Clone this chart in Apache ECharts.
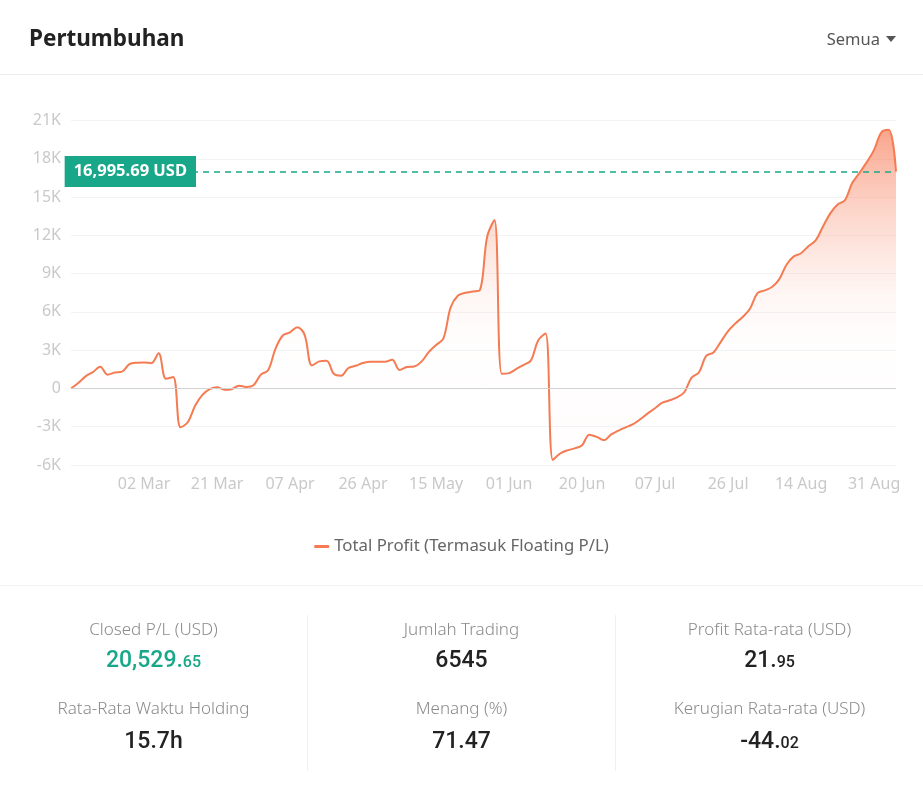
<!DOCTYPE html>
<html>
<head>
<meta charset="utf-8">
<title>Pertumbuhan</title>
<script src="https://cdn.jsdelivr.net/npm/echarts@6/dist/echarts.min.js"></script>
<style>
  html, body { margin: 0; padding: 0; background: #fff; }
  body { width: 923px; height: 799px; position: relative; overflow: hidden; font-family: "Noto Sans", "Open Sans", sans-serif; }
  #chart { position: absolute; left: 0; top: 0; width: 923px; height: 799px; }
  .title { position: absolute; left: 29px; top: 23px; font-size: 22.5px; line-height: 30px; font-weight: 700; color: #222; }
  .filter { position: absolute; right: 27px; top: 27px; font-size: 16.5px; line-height: 24px; color: #555; }
  .caret { display: inline-block; width: 0; height: 0; margin-left: 6px; vertical-align: 3px;
           border-left: 5px solid transparent; border-right: 5px solid transparent; border-top: 6px solid #555; }
  .sep { position: absolute; left: 0; width: 923px; height: 1px; background: #ececec; }
  .stats { position: absolute; left: 0; top: 615px; width: 923px; height: 156px; display: flex; }
  .col { flex: 1; text-align: center; border-left: 1px solid #f1f1f1; }
  .col:first-child { border-left: none; }
  .lbl { font-size: 17px; line-height: 28px; color: #8a8a8a; font-weight: 300; }
  .val { font-family: Roboto, sans-serif; font-size: 23px; line-height: 34px; font-weight: 500; color: #222; }
  .val small { font-size: 16px; }
  .val.green { color: #18a889; }
  .gap { margin-top: 15px; }
  .val.big { line-height: 38px; }
</style>
</head>
<body>
<div id="chart"></div>
<div class="title">Pertumbuhan</div>
<div class="filter">Semua<span class="caret"></span></div>
<div class="sep" style="top:74px"></div>
<div class="sep" style="top:585px;background:#f3f3f3"></div>
<div class="stats" id="stats"></div>
<script>
  // tanggal (kategori sumbu X)
  const dateList = [
    "12 Feb", "14 Feb", "16 Feb", "18 Feb", "20 Feb", "22 Feb", "24 Feb", "26 Feb", "28 Feb", "01 Mar",
    "02 Mar", "04 Mar", "06 Mar", "08 Mar", "10 Mar", "12 Mar", "14 Mar", "16 Mar", "18 Mar", "20 Mar",
    "21 Mar", "23 Mar", "25 Mar", "27 Mar", "29 Mar", "31 Mar", "02 Apr", "04 Apr", "05 Apr", "06 Apr",
    "07 Apr", "09 Apr", "11 Apr", "13 Apr", "15 Apr", "17 Apr", "19 Apr", "21 Apr", "23 Apr", "25 Apr",
    "26 Apr", "28 Apr", "30 Apr", "02 May", "04 May", "06 May", "08 May", "10 May", "12 May", "14 May",
    "15 May", "17 May", "19 May", "21 May", "23 May", "25 May", "27 May", "29 May", "30 May", "31 May",
    "01 Jun", "03 Jun", "05 Jun", "07 Jun", "09 Jun", "11 Jun", "13 Jun", "15 Jun", "17 Jun", "19 Jun",
    "20 Jun", "22 Jun", "24 Jun", "26 Jun", "28 Jun", "30 Jun", "02 Jul", "04 Jul", "05 Jul", "06 Jul",
    "07 Jul", "09 Jul", "11 Jul", "13 Jul", "15 Jul", "17 Jul", "19 Jul", "21 Jul", "23 Jul", "25 Jul",
    "26 Jul", "28 Jul", "30 Jul", "01 Aug", "03 Aug", "05 Aug", "07 Aug", "09 Aug", "11 Aug", "13 Aug",
    "14 Aug", "16 Aug", "18 Aug", "20 Aug", "22 Aug", "24 Aug", "26 Aug", "28 Aug", "29 Aug", "30 Aug",
    "31 Aug", "01 Sep", "02 Sep", "03 Sep"
  ];

  // label yang terlihat di sumbu X
  const tickLabels = ["02 Mar", "21 Mar", "07 Apr", "26 Apr", "15 May", "01 Jun",
    "20 Jun", "07 Jul", "26 Jul", "14 Aug", "31 Aug"];

  // Total Profit (Termasuk Floating P/L), USD
  const profitValues = [
    0, 430, 950, 1280, 1700, 1080, 1250, 1320, 1900, 2020,
    2040, 1980, 2750, 760, 900, -3050, -2650, -1350, -500, -50,
    100, -100, -60, 220, 120, 250, 1080, 1420, 3100, 4150,
    4400, 4800, 4200, 1800, 2120, 2180, 1150, 1000, 1600, 1780,
    1990, 2090, 2090, 2090, 2250, 1450, 1680, 1720, 2100, 2850,
    3400, 3900, 6350, 7280, 7500, 7600, 7710, 11900, 13200, 1150,
    1200, 1530, 1850, 2200, 3780, 4300, -5600, -5100, -4850, -4700,
    -4450, -3620, -3800, -4050, -3600, -3300, -3040, -2800, -2400, -1950,
    -1550, -1120, -930, -700, -300, 850, 1250, 2550, 2820, 3650,
    4500, 5100, 5600, 6250, 7450, 7680, 7950, 8550, 9700, 10350,
    10600, 11150, 11600, 12700, 13720, 14420, 14750, 16100, 16900, 17740,
    18700, 20080, 20270, 16995.69
  ];

  const seriesName = "Total Profit (Termasuk Floating P/L)";

  // ringkasan di bawah grafik
  const statLabels = [
    ["Closed P/L (USD)", "Rata-Rata Waktu Holding"],
    ["Jumlah Trading", "Menang (%)"],
    ["Profit Rata-rata (USD)", "Kerugian Rata-rata (USD)"]
  ];
  const statValues = [
    [["20,529.", "65"], ["15.7h", ""]],
    [["6545", ""], ["71.47", ""]],
    [["21.", "95"], ["-44.", "02"]]
  ];

  const statsEl = document.getElementById("stats");
  statLabels.forEach((pair, i) => {
    const col = document.createElement("div");
    col.className = "col";
    const v = statValues[i];
    col.innerHTML =
      '<div class="lbl">' + pair[0] + "</div>" +
      '<div class="val' + (i === 0 ? " green" : "") + '">' + v[0][0] + "<small>" + v[0][1] + "</small></div>" +
      '<div class="lbl gap">' + pair[1] + "</div>" +
      '<div class="val big">' + v[1][0] + "<small>" + v[1][1] + "</small></div>";
    statsEl.appendChild(col);
  });

  const lastValue = profitValues[profitValues.length - 1];
  const lastText = lastValue.toLocaleString("en-US", { minimumFractionDigits: 2, maximumFractionDigits: 2 }) + " USD";

  const chart = echarts.init(document.getElementById("chart"), null, { renderer: "canvas" });
  const option = {
    animation: false,
    textStyle: { fontFamily: "Roboto, sans-serif" },
    grid: { left: 71, right: 27, top: 120.5, bottom: 334 },
    legend: {
      top: 533,
      left: "center",
      icon: "roundRect",
      itemWidth: 15,
      itemHeight: 3,
      itemGap: 8,
      textStyle: { color: "#666", fontSize: 16.8, fontFamily: "Noto Sans, sans-serif" },
      data: [seriesName]
    },
    xAxis: {
      type: "category",
      data: dateList,
      boundaryGap: false,
      axisLine: { show: false },
      axisTick: { show: false },
      splitLine: { show: false },
      axisLabel: {
        color: "#c9c9c9",
        fontSize: 16,
        fontFamily: "Noto Sans, sans-serif",
        margin: 11,
        interval: (idx, val) => tickLabels.includes(val)
      }
    },
    yAxis: {
      type: "value",
      min: -6000,
      max: 21000,
      interval: 3000,
      axisLine: { show: false },
      axisTick: { show: false },
      splitLine: { lineStyle: { color: "#f3f3f3", width: 1 } },
      axisLabel: {
        color: "#c9c9c9",
        fontSize: 16,
        fontFamily: "Noto Sans, sans-serif",
        margin: 10,
        formatter: (v) => (v === 0 ? "0" : v / 1000 + "K")
      }
    },
    series: [
      {
        name: seriesName,
        type: "line",
        data: profitValues,
        smooth: 0.35,
        showSymbol: false,
        symbol: "none",
        color: "#f47b52",
        lineStyle: { width: 2, color: "#f47b52" },
        areaStyle: {
          color: {
            type: "linear",
            x: 0, y: 0, x2: 0, y2: 1,
            colorStops: [
              { offset: 0, color: "rgba(246,112,72,0.9)" },
              { offset: 0.25, color: "rgba(248,132,98,0.48)" },
              { offset: 0.5, color: "rgba(250,152,122,0.12)" },
              { offset: 0.66, color: "rgba(252,170,150,0.015)" },
              { offset: 1, color: "rgba(252,170,150,0.03)" }
            ]
          }
        },
        markLine: {
          silent: true,
          symbol: ["none", "none"],
          animation: false,
          data: [
            {
              yAxis: 0,
              lineStyle: { color: "#d2d2d2", type: "solid", width: 1 },
              label: { show: false }
            },
            {
              yAxis: lastValue,
              lineStyle: { color: "#1aa88a", type: [6, 5], width: 1.5 },
              label: {
                show: true,
                position: "start",
                distance: -125,
                formatter: lastText,
                color: "#fff",
                fontSize: 16.5,
                fontWeight: "bold",
                fontFamily: "Noto Sans, sans-serif",
                backgroundColor: "#18a889",
                padding: [7, 9]
              }
            }
          ]
        }
      }
    ]
  };
  chart.setOption(option);
</script>
</body>
</html>
